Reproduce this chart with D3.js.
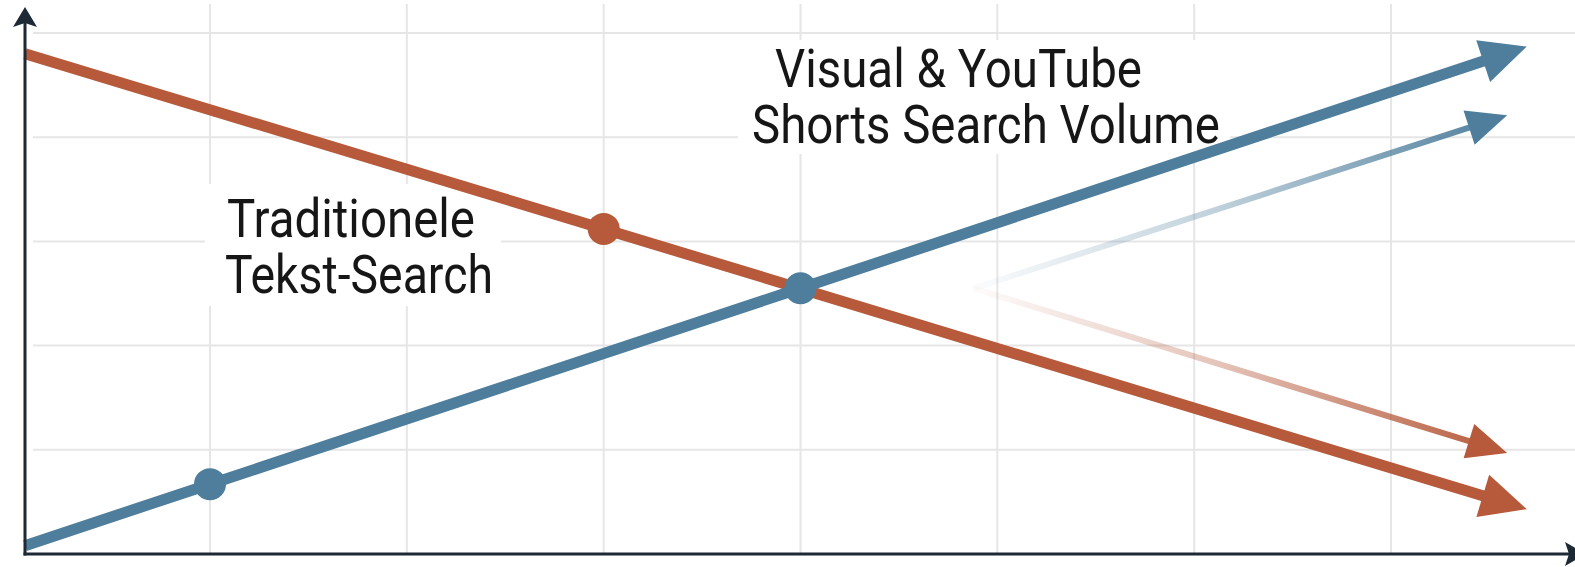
<!DOCTYPE html>
<html>
<head>
<meta charset="utf-8">
<script src="https://cdn.jsdelivr.net/npm/d3@7"></script>
<style>
  html, body { margin: 0; padding: 0; background: #ffffff; }
  svg { display: block; }
</style>
</head>
<body>
<svg id="chart" width="1575" height="567"></svg>
<script>
// ---------- data ----------
const gridX = [1, 2, 3, 4, 5, 6, 7];
const gridY = [1, 2, 3, 4, 5];

// Traditional text search (declining)
const textSearchX = [0.06, 3, 7.69];
const textSearchY = [4.8, 3.12, 0.43];
const textSearchDots = [1];

// Visual & YouTube Shorts search volume (rising)
const visualX = [0.06, 1, 4, 7.69];
const visualY = [0.08, 0.67, 2.55, 4.87];
const visualDots = [1, 2];

// faded projections starting after the crossing
const projVisualX = [4.88, 7.59];
const projVisualY = [2.55, 4.21];
const projTextX = [4.88, 7.59];
const projTextY = [2.55, 0.97];

const labelVisual = ["Visual & YouTube", "Shorts Search Volume"];
const labelText = ["Traditionele", "Tekst-Search"];

// ---------- layout ----------
const W = 1575, H = 567;
const axisX = 25, axisY = 554;
const ORANGE = "#b65a3b", BLUE = "#4e7e9c", AXIS = "#1d2934", GRID = "#e6e6e6";

const x = d3.scaleLinear().domain([1, 7]).range([210, 1391]);
const y = d3.scaleLinear().domain([0, 5]).range([axisY, 33]);

const svg = d3.select("#chart");
const defs = svg.append("defs");

// gridlines
svg.append("g").selectAll("line").data(gridX).join("line")
  .attr("x1", d => x(d)).attr("x2", d => x(d))
  .attr("y1", 4).attr("y2", axisY)
  .attr("stroke", GRID).attr("stroke-width", 2);
svg.append("g").selectAll("line").data(gridY).join("line")
  .attr("x1", axisX + 8).attr("x2", W)
  .attr("y1", d => y(d)).attr("y2", d => y(d))
  .attr("stroke", GRID).attr("stroke-width", 2);

// label backgrounds
svg.append("rect").attr("x", 738).attr("y", 40).attr("width", 492).attr("height", 114).attr("fill", "#fff");
svg.append("rect").attr("x", 205).attr("y", 184).attr("width", 296).attr("height", 122).attr("fill", "#fff");

// labels
const font = "Roboto, 'Noto Sans', sans-serif";
function addLabel(lines, xs, ys, widths) {
  lines.forEach((t, i) => {
    svg.append("text").text(t)
      .attr("x", xs[i]).attr("y", ys[i])
      .attr("font-family", font).attr("font-size", 53)
      .attr("fill", "#161616")
      .attr("textLength", widths[i]).attr("lengthAdjust", "spacingAndGlyphs");
  });
}
addLabel(labelVisual, [775, 752], [87, 143], [367, 468]);
addLabel(labelText, [227, 225], [237, 293], [248, 268]);

// helper: line with arrowhead
function arrowLine(xs, ys, color, width, headLen, headW, stroke) {
  const pts = xs.map((d, i) => [x(d), y(ys[i])]);
  const tip = pts[pts.length - 1];
  const prev = pts[pts.length - 2];
  const dx = tip[0] - prev[0], dy = tip[1] - prev[1];
  const L = Math.hypot(dx, dy);
  const ux = dx / L, uy = dy / L;
  const nx = -uy, ny = ux;
  const end = [tip[0] - ux * headLen * 0.7, tip[1] - uy * headLen * 0.7];
  const linePts = pts.slice(0, -1).concat([end]);
  svg.append("path")
    .attr("d", d3.line()(linePts))
    .attr("fill", "none").attr("stroke", stroke || color)
    .attr("stroke-width", width).attr("stroke-linecap", "butt");
  const bx = tip[0] - ux * headLen, by = tip[1] - uy * headLen;
  svg.append("path")
    .attr("d", d3.line()([tip, [bx + nx * headW / 2, by + ny * headW / 2], [bx - nx * headW / 2, by - ny * headW / 2]]) + "Z")
    .attr("fill", color);
  return pts;
}

function fadeGradient(id, xs, ys, color) {
  const g = defs.append("linearGradient").attr("id", id)
    .attr("gradientUnits", "userSpaceOnUse")
    .attr("x1", x(xs[0])).attr("y1", y(ys[0]))
    .attr("x2", x(xs[1])).attr("y2", y(ys[1]));
  g.append("stop").attr("offset", 0).attr("stop-color", color).attr("stop-opacity", 0.02);
  g.append("stop").attr("offset", 0.45).attr("stop-color", color).attr("stop-opacity", 0.35);
  g.append("stop").attr("offset", 1).attr("stop-color", color).attr("stop-opacity", 1);
  return "url(#" + id + ")";
}

// projections (faded)
arrowLine(projVisualX, projVisualY, BLUE, 6, 40, 36, fadeGradient("gv", projVisualX, projVisualY, BLUE));
arrowLine(projTextX, projTextY, ORANGE, 6, 40, 36, fadeGradient("gt", projTextX, projTextY, ORANGE));

// main lines
arrowLine(textSearchX, textSearchY, ORANGE, 11, 46, 44);
arrowLine(visualX, visualY, BLUE, 11, 46, 44);

svg.append("g").selectAll("circle").data(textSearchDots).join("circle")
  .attr("cx", i => x(textSearchX[i])).attr("cy", i => y(textSearchY[i]))
  .attr("r", 16).attr("fill", ORANGE);
svg.append("g").selectAll("circle").data(visualDots).join("circle")
  .attr("cx", i => x(visualX[i])).attr("cy", i => y(visualY[i]))
  .attr("r", 16).attr("fill", BLUE);

// axes
svg.append("line").attr("x1", axisX).attr("x2", axisX).attr("y1", axisY + 1.5).attr("y2", 22)
  .attr("stroke", AXIS).attr("stroke-width", 3);
svg.append("path").attr("d", `M${axisX},7 L${axisX - 12},27 L${axisX},23 L${axisX + 12},27 Z`).attr("fill", AXIS);
svg.append("line").attr("x1", axisX - 1.5).attr("x2", 1570).attr("y1", axisY).attr("y2", axisY)
  .attr("stroke", AXIS).attr("stroke-width", 3);
svg.append("path").attr("d", `M1586,${axisY} L1565,${axisY - 12} L1569,${axisY} L1565,${axisY + 12} Z`).attr("fill", AXIS);
</script>
</body>
</html>
